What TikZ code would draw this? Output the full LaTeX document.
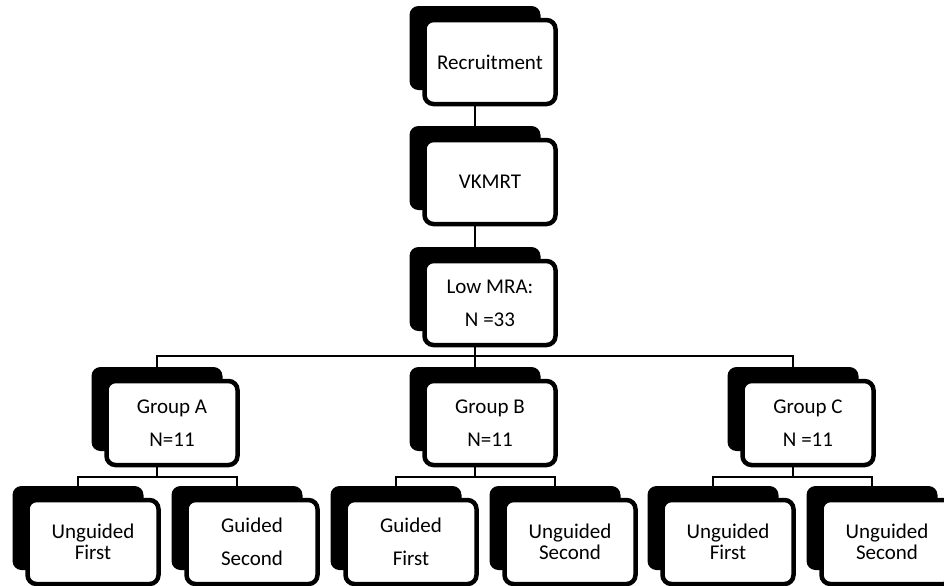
\documentclass[tikz,border=0pt]{standalone}
\usepackage{fontspec}
\setmainfont{Carlito}
\usetikzlibrary{backgrounds}

\begin{document}
\begin{tikzpicture}[
  x=0.5pt, y=-0.5pt,
  line cap=round,
  every node/.style={font=\fontsize{10.5}{12}\selectfont},
  back/.style={fill=black, rounded corners=4.5pt, minimum width=65.5pt, minimum height=42pt, inner sep=0pt},
  card/.style={draw=black, line width=2.25pt, fill=white, rounded corners=4.5pt,
    minimum width=65.5pt, minimum height=42pt, inner sep=0pt, align=center},
  wide/.style={font=\fontsize{10.5}{16.5}\selectfont},
  tight/.style={font=\fontsize{10.5}{10.5}\selectfont},
  link/.style={line width=0.9pt}
]
\useasboundingbox (0,0) rectangle (944,585);

%========== trunk: recruitment -> screening -> selected sample ==========
\def\dx{15}\def\dy{14}
\foreach \nm/\yy/\st/\txt in {rec/48/wide/Recruitment, vk/168/wide/VKMRT, low/289/wide/{Low MRA:\\N =33}}{
  \node[back] (\nm-bk) at (475,\yy) {};
  \node[card,\st] (\nm) at ([shift={(\dx,\dy)}]\nm-bk.center) {\txt};
}

%========== groups ==========
\foreach \nm/\xx/\txt in {grpA/157/{Group A\\N=11}, grpB/475/{Group B\\N=11}, grpC/793/{Group C\\N =11}}{
  \node[back] (\nm-bk) at (\xx,409) {};
  \node[card,wide] (\nm) at ([shift={(\dx,\dy)}]\nm-bk.center) {\txt};
}

%========== order of conditions per group ==========
\foreach \nm/\xx/\st/\txt in {a1/78/tight/{Unguided\\First}, a2/237/wide/{Guided\\Second},
                             b1/396/wide/{Guided\\First}, b2/555/tight/{Unguided\\Second},
                             c1/713/tight/{Unguided\\First}, c2/872/tight/{Unguided\\Second}}{
  \node[back] (\nm-bk) at (\xx,528) {};
  \node[card,\st] (\nm) at ([shift={(\dx,\dy)}]\nm-bk.center) {\txt};
}

% connectors behind the cards
\begin{pgfonlayer}{background}
  \coordinate (bar1) at (0,356);
  \coordinate (bar2) at (0,477);
  \draw[link] (rec-bk.center) -- (vk-bk.center) -- (low-bk.center) -- (low-bk.center |- bar1);
  \draw[link] (grpA-bk.center) |- (grpC-bk.center |- bar1) -- (grpC-bk.center);
  \draw[link] (grpB-bk.center |- bar1) -- (grpB-bk.center);
  \foreach \g/\l/\r in {grpA/a1/a2, grpB/b1/b2, grpC/c1/c2}{
    \draw[link] (\g-bk.center) -- (\g-bk.center |- bar2);
    \draw[link] (\l-bk.center) |- (\r-bk.center |- bar2) -- (\r-bk.center);
  }
\end{pgfonlayer}
\end{tikzpicture}
\end{document}
